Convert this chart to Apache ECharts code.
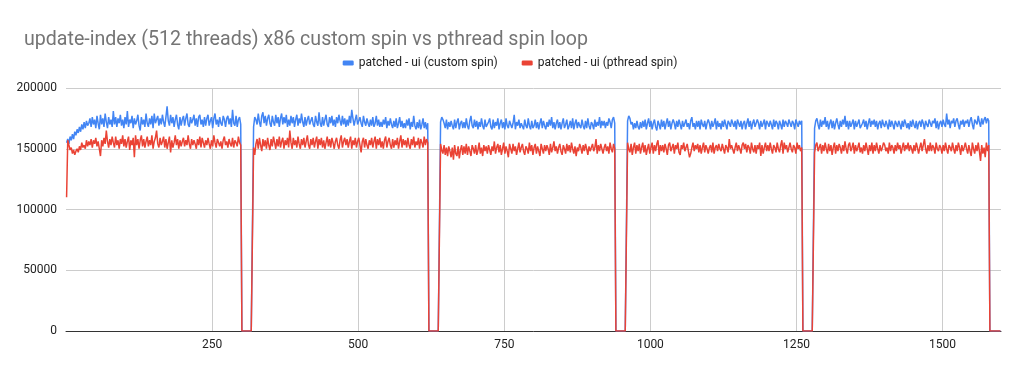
<!DOCTYPE html>
<html>
<head>
<meta charset="utf-8">
<script src="https://cdn.jsdelivr.net/npm/echarts@6/dist/echarts.min.js"></script>
<style>
html,body{margin:0;padding:0;background:#fff;}
#chart{width:1020px;height:371px;}
</style>
</head>
<body>
<div id="chart"></div>
<script>
// Values in thousands, one sample every 2 x-units (x = 1, 3, 5, ...)
const UNIT = 1000;
const X_STEP = 2;
const gapZeros = [0,0,0,0,0,0,0,0,0,0];
const xTicks = [250, 500, 750, 1000, 1250, 1500];
const yTicks = [0, 50000, 100000, 150000, 200000];
const seriesNames = ['patched - ui (custom spin)', 'patched - ui (pthread spin)'];

const customRun1 = [
155,158,154,160,157,162,158,164,161,166,
163,168,164,170,166,172,167,173,169,171,
175,168,176,170,174,167,177,171,166,178,
170,175,168,179,172,167,176,170,174,168,
181,170,176,168,175,171,178,169,174,167,
176,170,181,168,174,171,177,167,175,170,
173,178,169,165,176,170,174,168,179,171,
168,175,170,177,167,179,171,174,177,169,
175,170,178,172,168,176,185,173,169,178,
171,176,168,174,178,170,166,176,169,174,
177,169,175,179,170,168,176,171,174,178,
169,175,168,176,178,170,174,168,176,169,
175,178,169,173,176,167,175,179,170,174,
168,176,171,169,177,174,168,175,177,170,
175,168,182,171,169,177,168,174,176,170];
const customRun2 = [
168,176,174,170,179,172,168,177,180,171,
177,169,175,178,171,168,177,172,169,178,
171,176,168,175,179,170,176,171,178,168,
174,169,177,171,176,168,174,178,169,175,
171,179,172,168,176,169,174,177,170,173,
176,170,168,177,172,169,180,171,168,176,
169,174,178,170,168,176,171,177,169,174,
168,176,171,178,173,169,177,170,175,168,
174,169,177,171,182,175,169,174,178,170,
169,176,171,168,177,172,169,175,171,168,
174,169,176,168,171,177,169,174,168,172,
168,174,170,176,167,173,169,175,170,167,
173,168,175,167,171,176,168,173,167,171,
167,174,169,175,166,172,168,177,169,166,
172,167,174,166,170,175,167,172,166,171];
const customRun3 = [
172,176,174,171,167,174,166,172,168,173,
169,166,174,167,172,175,166,171,173,167,
172,167,175,169,166,173,177,169,167,174,
168,173,166,172,168,175,169,166,174,168,
167,172,175,168,166,174,167,172,169,175,
166,171,174,167,172,166,175,169,167,173,
174,167,171,178,166,172,169,174,167,171,
172,166,174,169,167,175,169,166,173,167,
169,174,167,172,166,171,175,167,173,169,
166,172,168,174,169,176,167,172,166,171,
174,167,172,166,171,175,167,170,174,166,
169,173,167,175,166,171,174,167,172,169,
167,174,169,166,173,167,175,169,166,172,
170,166,174,168,172,169,176,167,173,169,
173,167,172,169,175,172,167,174,176,171];
const customRun4 = [
173,177,175,170,172,166,171,167,173,168,
166,172,167,173,168,174,166,171,175,168,
173,166,171,174,168,165,173,170,166,174,
168,173,166,171,175,168,173,166,171,174,
171,166,173,168,174,170,166,173,168,171,
174,168,171,166,173,176,168,171,166,173,
168,173,166,174,170,168,173,166,171,174,
171,166,173,168,171,175,166,173,168,171,
166,173,168,174,170,166,173,171,168,174,
171,168,173,166,174,171,168,173,166,171,
173,166,171,175,168,173,166,171,174,168,
168,174,171,166,173,168,171,174,166,173,
171,168,173,170,166,174,168,173,171,166,
173,170,166,174,168,173,171,168,174,171,
168,173,171,166,174,171,168,173,170,173];
const customRun5 = [
167,173,175,170,166,174,168,173,170,176,
168,173,166,171,174,167,173,166,171,175,
170,166,173,168,174,170,177,168,173,166,
173,168,171,174,166,173,168,171,174,167,
166,171,174,168,173,166,171,175,168,173,
170,174,168,173,166,171,173,167,174,170,
168,173,170,166,174,168,173,170,166,173,
174,168,173,170,166,173,168,174,171,167,
171,166,173,168,174,170,167,173,166,171,
173,168,174,171,166,173,170,168,174,171,
168,173,171,175,167,173,166,171,173,168,
174,170,168,179,170,174,167,173,171,175,
168,173,175,170,166,173,170,174,168,173,
171,174,168,173,176,170,166,174,173,170,
177,172,168,175,170,174,176,171,175,173];

const pthreadRun1 = [
110,157,153,149,151,146,149,145,148,150,
147,152,149,155,151,153,150,157,152,156,
153,158,151,157,154,159,152,156,150,144,
157,152,159,154,165,156,151,158,153,160,
155,151,160,153,157,150,158,154,161,152,
158,151,156,160,149,157,153,159,143,161,
153,158,150,157,161,152,158,151,156,160,
152,157,153,161,150,156,159,165,154,151,
159,153,156,160,151,158,150,155,160,147,
157,151,155,161,153,158,150,157,152,156,
159,152,157,153,161,154,150,158,153,157,
154,150,158,153,160,151,159,155,151,157,
153,159,154,150,157,152,161,155,151,158,
158,152,156,150,157,160,153,156,151,158,
154,152,159,151,157,155,152,160,155,153];
const pthreadRun2 = [
151,145,154,158,150,159,153,148,158,152,
157,150,159,153,149,158,152,160,155,150,
158,152,160,151,156,159,150,157,153,159,
151,165,155,150,159,153,157,151,160,154,
150,158,153,159,151,156,161,153,150,158,
153,159,151,156,160,150,158,153,159,151,
157,150,155,160,152,158,151,159,155,150,
156,159,153,150,157,161,151,156,159,153,
158,151,156,160,150,157,153,159,151,156,
159,153,147,156,159,151,158,153,150,157,
153,159,151,156,160,150,158,153,159,151,
156,150,157,160,151,156,159,153,150,158,
151,157,153,159,150,156,161,151,158,153,
157,151,159,153,150,158,153,160,151,156,
153,159,150,158,155,151,160,153,158,155];
const pthreadRun3 = [
154,149,146,153,145,151,144,152,148,143,
151,141,153,146,144,152,142,149,153,145,
152,146,154,145,152,148,144,153,150,146,
153,145,149,155,146,151,144,153,148,152,
146,153,149,145,152,148,156,146,151,154,
147,153,145,150,155,146,152,148,143,154,
150,146,154,148,152,145,150,155,147,151,
154,148,145,152,150,146,155,148,153,145,
151,154,146,152,148,144,154,150,146,153,
148,153,150,145,154,147,151,156,148,152,
146,151,154,148,145,153,150,146,154,148,
153,147,155,150,146,152,144,151,148,154,
151,146,153,148,154,150,145,152,148,151,
154,148,151,158,146,153,148,154,150,146,
151,154,148,152,146,155,150,147,154,150];
const pthreadRun4 = [
155,150,147,154,145,151,155,146,153,148,
154,146,151,155,147,153,145,150,154,146,
151,155,146,153,148,154,157,145,153,148,
153,147,154,150,145,153,155,148,151,154,
146,153,150,155,147,145,153,150,155,148,
151,154,148,143,146,151,155,148,153,150,
154,147,153,146,151,155,147,153,150,146,
151,153,147,155,146,151,153,148,154,150,
148,154,150,146,153,151,147,158,150,153,
153,146,151,155,148,153,150,146,153,155,
150,154,147,153,151,146,155,150,147,153,
146,153,150,155,144,153,146,151,155,148,
153,148,155,150,146,153,151,147,155,150,
147,153,157,146,155,150,153,147,151,155,
150,147,153,151,146,155,150,153,148,151];
const pthreadRun5 = [
147,153,155,148,151,154,146,153,148,155,
150,146,154,148,153,145,151,155,146,153,
148,154,151,146,153,148,156,150,146,153,
155,148,151,155,146,153,148,151,155,147,
151,146,153,148,155,150,145,153,148,155,
146,153,148,155,150,146,153,148,151,155,
153,148,151,146,155,148,153,151,146,153,
148,155,150,153,146,151,155,148,153,150,
155,148,153,150,146,153,148,155,151,146,
151,155,148,153,158,150,146,153,148,155,
148,153,151,146,155,150,148,153,151,146,
153,148,155,150,146,153,151,148,155,150,
146,153,148,155,151,145,153,148,151,155,
150,146,153,148,144,155,150,146,153,148,
155,148,140,153,146,151,143,155,148,153];

const customRuns = [customRun1, customRun2, customRun3, customRun4, customRun5];
const pthreadRuns = [pthreadRun1, pthreadRun2, pthreadRun3, pthreadRun4, pthreadRun5];

function build(runs) {
  const out = [];
  let x = 1;
  runs.forEach(run => {
    run.forEach(v => { out.push([x, v * UNIT]); x += X_STEP; });
    gapZeros.forEach(v => { out.push([x, v * UNIT]); x += X_STEP; });
  });
  return out;
}

const chart = echarts.init(document.getElementById('chart'), null, {renderer: 'canvas'});
const FONT = 'Roboto, "Noto Sans", sans-serif';
chart.setOption({
  animation: false,
  backgroundColor: '#ffffff',
  title: {
    text: 'update-index (512 threads) x86 custom spin vs pthread spin loop',
    left: 19, top: 25,
    textStyle: {fontFamily: FONT, fontSize: 19.6, fontWeight: 'normal', color: '#757575'}
  },
  legend: {
    left: 'center', top: 52,
    itemWidth: 11, itemHeight: 5, itemGap: 24,
    icon: 'roundRect',
    textStyle: {fontFamily: FONT, fontSize: 12, color: '#222'},
    data: seriesNames
  },
  grid: {left: 66, right: 19, top: 88, bottom: 40, containLabel: false},
  xAxis: {
    type: 'value', min: 0, max: 1600, interval: 250,
    axisLine: {lineStyle: {color: '#333', width: 1}},
    axisTick: {show: false},
    axisLabel: {fontFamily: FONT, fontSize: 12, color: '#222', margin: 8,
      showMinLabel: false, showMaxLabel: false,
      formatter: v => xTicks.includes(v) ? String(v) : ''},
    splitLine: {show: true, showMinLine: false, showMaxLine: false, lineStyle: {color: '#cccccc', width: 1}}
  },
  yAxis: {
    type: 'value', min: yTicks[0], max: yTicks[yTicks.length - 1], interval: 50000,
    axisLine: {show: false},
    axisTick: {show: false},
    axisLabel: {fontFamily: FONT, fontSize: 12, color: '#222', margin: 9,
      formatter: v => String(v)},
    splitLine: {lineStyle: {color: '#cccccc', width: 1}}
  },
  series: [
    {name: seriesNames[0], type: 'line', data: build(customRuns), showSymbol: false, symbol: 'none',
     color: '#4285F4', lineStyle: {width: 1.5, color: '#4285F4'}, z: 2},
    {name: seriesNames[1], type: 'line', data: build(pthreadRuns), showSymbol: false, symbol: 'none',
     color: '#EA4335', lineStyle: {width: 1.5, color: '#EA4335'}, z: 3}
  ]
});
</script>
</body>
</html>
